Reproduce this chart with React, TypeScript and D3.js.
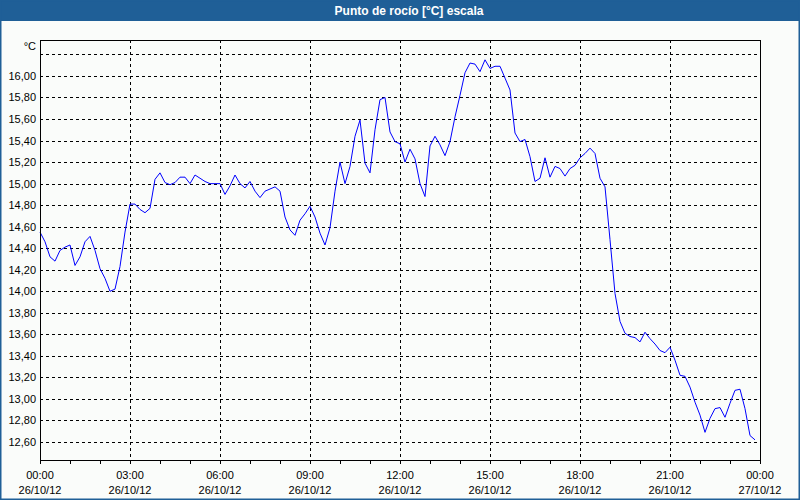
import React from "react";
import * as d3 from "d3";

const TITLE = "Punto de rocío [°C] escala";
const UNIT = "°C";
const START = new Date(2012, 9, 26, 0, 0);
const END = new Date(2012, 9, 27, 0, 0);
const STEP_MINUTES = 10;

// dew point values, one every 10 minutes from 26/10/12 00:00
const dewPoint: number[] = [
  14.55, 14.46, 14.32, 14.28, 14.38, 14.41, 14.43, 14.24, 14.32, 14.46,
  14.51, 14.38, 14.21, 14.12, 14.0, 14.02, 14.23, 14.55, 14.81, 14.81,
  14.76, 14.73, 14.77, 15.04, 15.1, 15.01, 14.99, 15.01, 15.06, 15.06,
  15.0, 15.08, 15.05, 15.02, 15.0, 15.0, 15.0, 14.9, 14.98, 15.08,
  15.0, 14.96, 15.02, 14.93, 14.87, 14.93, 14.95, 14.97, 14.93, 14.69,
  14.57, 14.52, 14.66, 14.72, 14.79, 14.69, 14.54, 14.43, 14.59, 14.93,
  15.2, 15.0, 15.16, 15.44, 15.59, 15.19, 15.1, 15.5, 15.78, 15.8,
  15.48, 15.39, 15.37, 15.2, 15.32, 15.23, 15.0, 14.88, 15.35, 15.44,
  15.36, 15.26, 15.39, 15.62, 15.82, 16.03, 16.12, 16.11, 16.04, 16.15,
  16.07, 16.09, 16.09, 15.98, 15.87, 15.47, 15.39, 15.41, 15.25, 15.02,
  15.05, 15.24, 15.06, 15.16, 15.14, 15.07, 15.14, 15.17, 15.24, 15.28,
  15.33, 15.28, 15.05, 14.97, 14.48, 13.98, 13.72, 13.61, 13.58, 13.57,
  13.53, 13.62, 13.56, 13.51, 13.45, 13.43, 13.48, 13.36, 13.22, 13.21,
  13.11, 12.97, 12.85, 12.69, 12.82, 12.91, 12.92, 12.83, 12.96, 13.08,
  13.09, 12.91, 12.66, 12.62,
];

const yTicks: number[] = [12.6, 12.8, 13.0, 13.2, 13.4, 13.6, 13.8, 14.0, 14.2, 14.4, 14.6, 14.8, 15.0, 15.2, 15.4, 15.6, 15.8, 16.0];
const yGrid: number[] = [...yTicks, 16.2];
const xTickHours: number[] = [0, 3, 6, 9, 12, 15, 18, 21, 24];
const Y_DOMAIN: [number, number] = [12.433, 16.334];

const W = 800;
const H = 500;
const M = { left: 40, right: 760, top: 40, bottom: 460 };
const FONT = "'Liberation Sans', Arial, sans-serif";
const BLUE = "#1f5f97";
const BG = "#fafcfa";

export default function App() {
  const x = d3.scaleTime().domain([START, END]).range([M.left, M.right]);
  const y = d3.scaleLinear().domain(Y_DOMAIN).range([M.bottom, M.top]);
  const data = dewPoint.map((v, i) => ({
    t: d3.timeMinute.offset(START, i * STEP_MINUTES),
    v,
  }));
  const line = d3
    .line<{ t: Date; v: number }>()
    .x((d) => x(d.t))
    .y((d) => y(d.v));
  const fmtNum = (v: number) => v.toFixed(2).replace(".", ",");
  const fmtTime = d3.timeFormat("%H:%M");
  const fmtDate = d3.timeFormat("%d/%m/%y");
  const hourTicks = d3.timeHour.range(START, d3.timeMinute.offset(END, 1));
  const majorTicks = xTickHours.map((h) => d3.timeHour.offset(START, h));

  return (
    <svg
      width={W}
      height={H}
      style={{ position: "absolute", left: 0, top: 0, display: "block" }}
      fontFamily={FONT}
    >
      <rect x={0} y={0} width={W} height={H} fill={BG} />
      <rect x={0} y={0} width={W} height={21} fill={BLUE} />
      <rect x={0.5} y={0.5} width={W - 1} height={H - 1} fill="none" stroke={BLUE} strokeWidth={2} />
      <text x={409} y={15} textAnchor="middle" fill="#fff" fontSize={12} fontWeight="bold">
        {TITLE}
      </text>

      {/* horizontal grid */}
      {yGrid.map((v) => (
        <line
          key={"hg" + v}
          x1={M.left}
          x2={M.right}
          y1={Math.round(y(v)) + 0.5}
          y2={Math.round(y(v)) + 0.5}
          stroke="#000"
          strokeDasharray="3,3"
          strokeWidth={1}
        />
      ))}
      {/* vertical grid */}
      {majorTicks.slice(1, -1).map((t) => (
        <line
          key={"vg" + t.getTime()}
          x1={Math.round(x(t)) + 0.5}
          x2={Math.round(x(t)) + 0.5}
          y1={M.top}
          y2={M.bottom}
          stroke="#000"
          strokeDasharray="3,3"
          strokeWidth={1}
        />
      ))}

      {/* x ticks */}
      {hourTicks.map((t) => (
        <line
          key={"xt" + t.getTime()}
          x1={Math.round(x(t)) + 0.5}
          x2={Math.round(x(t)) + 0.5}
          y1={M.bottom}
          y2={M.bottom + 4}
          stroke="#000"
        />
      ))}

      {/* data line */}
      <path d={line(data) || ""} fill="none" stroke="#0000ff" strokeWidth={1} />

      {/* frame */}
      <rect
        x={M.left + 0.5}
        y={M.top + 0.5}
        width={M.right - M.left}
        height={M.bottom - M.top}
        fill="none"
        stroke="#000"
        strokeWidth={1}
      />

      {/* y labels */}
      <text x={36} y={50} textAnchor="end" fontSize={11} fill="#000">
        {UNIT}
      </text>
      {yTicks.map((v) => (
        <text key={"yl" + v} x={36} y={y(v) + 4} textAnchor="end" fontSize={11} fill="#000">
          {fmtNum(v)}
        </text>
      ))}

      {/* x labels */}
      {majorTicks.map((t) => (
        <g key={"xl" + t.getTime()}>
          <text x={x(t)} y={479} textAnchor="middle" fontSize={11} fill="#000">
            {fmtTime(t)}
          </text>
          <text x={x(t)} y={494} textAnchor="middle" fontSize={11} fill="#000">
            {fmtDate(t)}
          </text>
        </g>
      ))}
    </svg>
  );
}
